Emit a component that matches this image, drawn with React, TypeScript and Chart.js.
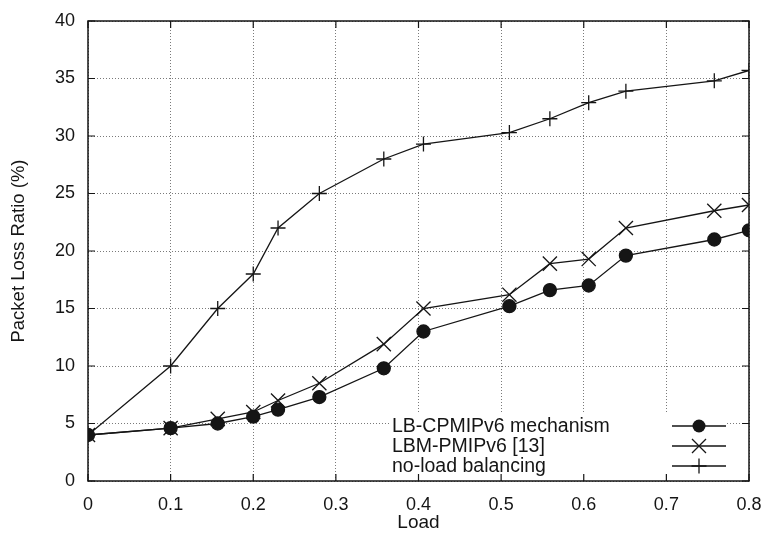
import React, { useEffect, useRef } from "react";
import { Chart, registerables } from "chart.js";

Chart.register(...registerables);

// ---- data ----
const loads = [0, 0.1, 0.157, 0.2, 0.23, 0.28, 0.358, 0.406, 0.51, 0.559, 0.606, 0.651, 0.758, 0.8];
const lbCpmipv6 = [4, 4.6, 5.0, 5.6, 6.2, 7.3, 9.8, 13.0, 15.2, 16.6, 17.0, 19.6, 21.0, 21.8];
const lbmPmipv6 = [4, 4.6, 5.4, 6.0, 7.0, 8.5, 11.9, 15.0, 16.2, 18.9, 19.3, 22.0, 23.5, 24.0];
const noLoadBalancing = [4, 10, 15, 18, 22, 25, 28, 29.3, 30.3, 31.5, 32.9, 33.9, 34.8, 35.7];
const seriesNames = ["LB-CPMIPv6 mechanism", "LBM-PMIPv6 [13]", "no-load balancing"];
const xTickLabels = ["0", "0.1", "0.2", "0.3", "0.4", "0.5", "0.6", "0.7", "0.8"];
const yTickLabels = ["0", "5", "10", "15", "20", "25", "30", "35", "40"];
const xTitle = "Load";
const yTitle = "Packet Loss Ratio (%)";

const FONT = "'Liberation Sans', Arial, Helvetica, sans-serif";
const INK = "#151515";

function drawMarker(ctx: CanvasRenderingContext2D, style: string, x: number, y: number) {
  ctx.save();
  ctx.strokeStyle = INK;
  ctx.fillStyle = INK;
  ctx.lineWidth = 1.3;
  ctx.beginPath();
  if (style === "circle") {
    ctx.arc(x, y, 6.5, 0, Math.PI * 2);
    ctx.fill();
  } else if (style === "crossRot") {
    const d = 7;
    ctx.moveTo(x - d, y - d);
    ctx.lineTo(x + d, y + d);
    ctx.moveTo(x - d, y + d);
    ctx.lineTo(x + d, y - d);
    ctx.stroke();
  } else {
    const d = 7.5;
    ctx.moveTo(x - d, y);
    ctx.lineTo(x + d, y);
    ctx.moveTo(x, y - d);
    ctx.lineTo(x, y + d);
    ctx.stroke();
  }
  ctx.restore();
}

const pointStyles = ["circle", "crossRot", "cross"];

const legendPlugin = {
  id: "gnuLegend",
  afterDatasetsDraw(chart: any) {
    const { ctx, chartArea } = chart;
    const a = chartArea;
    ctx.save();
    ctx.fillStyle = "#ffffff";
    ctx.fillRect(a.left + 302, a.bottom - 67, a.right - 22 - (a.left + 302), 66);
    ctx.font = `19.5px ${FONT}`;
    ctx.fillStyle = INK;
    ctx.textAlign = "left";
    ctx.textBaseline = "middle";
    seriesNames.forEach((name, i) => {
      const y = a.bottom - 55 + i * 20;
      ctx.fillText(name, a.left + 304, y + 1);
      ctx.strokeStyle = INK;
      ctx.lineWidth = 1.3;
      ctx.beginPath();
      ctx.moveTo(a.right - 77, y);
      ctx.lineTo(a.right - 23, y);
      ctx.stroke();
      drawMarker(ctx, pointStyles[i], a.right - 50, y);
    });
    ctx.restore();
  },
};

const framePlugin = {
  id: "gnuFrame",
  afterDraw(chart: any) {
    const { ctx, chartArea: a, scales } = chart;
    ctx.save();
    ctx.strokeStyle = INK;
    ctx.lineWidth = 1.5;
    ctx.strokeRect(a.left, a.top, a.right - a.left, a.bottom - a.top);
    ctx.lineWidth = 1.2;
    const L = 7;
    ctx.beginPath();
    scales.x.ticks.forEach((t: any) => {
      const px = scales.x.getPixelForValue(t.value);
      ctx.moveTo(px, a.bottom);
      ctx.lineTo(px, a.bottom - L);
      ctx.moveTo(px, a.top);
      ctx.lineTo(px, a.top + L);
    });
    scales.y.ticks.forEach((t: any) => {
      const py = scales.y.getPixelForValue(t.value);
      ctx.moveTo(a.left, py);
      ctx.lineTo(a.left + L, py);
      ctx.moveTo(a.right, py);
      ctx.lineTo(a.right - L, py);
    });
    ctx.stroke();
    ctx.restore();
  },
};

const seriesValues = [lbCpmipv6, lbmPmipv6, noLoadBalancing];
const pointRadii = [6.5, 10, 7.5];

export default function App() {
  const ref = useRef<HTMLCanvasElement | null>(null);

  useEffect(() => {
    if (!ref.current) return;
    Chart.defaults.font.family = FONT;
    Chart.defaults.color = INK;
    const datasets = seriesValues.map((vals, i) => ({
      label: seriesNames[i],
      data: loads.map((x, j) => ({ x, y: vals[j] })),
      borderColor: INK,
      backgroundColor: INK,
      borderWidth: 1.3,
      pointStyle: pointStyles[i],
      pointRadius: pointRadii[i],
      pointBorderWidth: 1.3,
      pointBorderColor: INK,
      pointBackgroundColor: INK,
      tension: 0,
      fill: false,
    }));
    const chart = new Chart(ref.current, {
      type: "line",
      data: { datasets },
      options: {
        responsive: false,
        animation: false,
        devicePixelRatio: 1,
        layout: { padding: { top: 21, right: 18, left: 0, bottom: 0 } },
        plugins: { legend: { display: false }, tooltip: { enabled: false } },
        scales: {
          x: {
            type: "linear",
            min: 0,
            max: 0.8,
            afterFit: (s: any) => {
              s.height = 56;
              s.paddingLeft = 0;
              s.paddingRight = 0;
            },
            ticks: {
              stepSize: 0.1,
              padding: 13,
              maxRotation: 0,
              font: { size: 18 },
              color: INK,
              callback: (_v: any, i: number) => xTickLabels[i],
            },
            grid: { color: "#7a7a7a", lineWidth: 1, drawTicks: false },
            border: { display: false, dash: [1, 2] },
            title: { display: true, text: xTitle, font: { size: 19 }, color: INK, padding: { top: 0, bottom: 3 } },
          },
          y: {
            type: "linear",
            min: 0,
            max: 40,
            afterFit: (s: any) => {
              s.width = 88;
              s.paddingTop = 0;
              s.paddingBottom = 0;
            },
            ticks: {
              stepSize: 5,
              padding: 13,
              font: { size: 18 },
              color: INK,
              callback: (_v: any, i: number) => yTickLabels[i],
            },
            grid: { color: "#7a7a7a", lineWidth: 1, drawTicks: false },
            border: { display: false, dash: [1, 2] },
            title: { display: true, text: yTitle, font: { size: 18.5 }, color: INK, padding: { top: 8, bottom: 0 } },
          },
        },
      },
      plugins: [legendPlugin, framePlugin],
    } as any);
    return () => chart.destroy();
  }, []);

  return (
    <div style={{ position: "absolute", left: 0, top: 0, width: 767, height: 537, background: "#fff" }}>
      <canvas ref={ref} width={767} height={537} />
    </div>
  );
}
